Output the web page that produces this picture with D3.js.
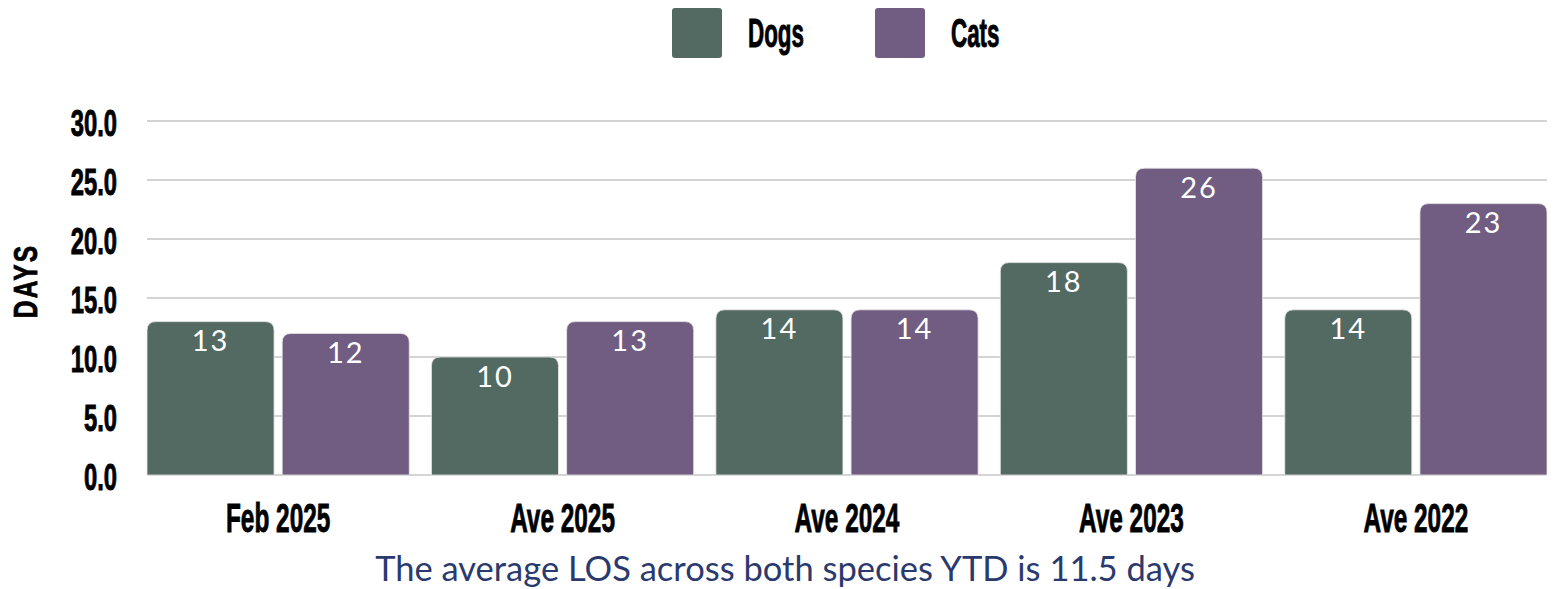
<!DOCTYPE html>
<html><head><meta charset="utf-8">
<script src="https://cdn.jsdelivr.net/npm/d3@7"></script>
<style>body{margin:0;background:#fff}svg{display:block}</style>
</head><body>
<svg id="chart" width="1555" height="589"></svg>
<script>
const categories = ["Feb 2025","Ave 2025","Ave 2024","Ave 2023","Ave 2022"];
const seriesNames = ["Dogs","Cats"];
const dogs = [13,10,14,18,14];
const cats = [12,13,14,26,23];
const yTicks = [0,5,10,15,20,25,30];
const colors = ["#536a62","#715c82"];
const yTitle = "DAYS";
const footer = "The average LOS across both species YTD is 11.5 days";

const svg = d3.select("#chart");
const condensed = "'Liberation Sans', Arial, sans-serif";
const x0 = d3.scaleBand().domain(categories).range([147,1547]).paddingInner(0.078).paddingOuter(0);
const x1 = d3.scaleBand().domain(seriesNames).range([0,x0.bandwidth()]).paddingInner(0.06);
const y = d3.scaleLinear().domain([0,30]).range([475,121]);

// gridlines
svg.append("g").selectAll("line").data(yTicks).join("line")
  .attr("x1",147).attr("x2",1547).attr("y1",d=>y(d)).attr("y2",d=>y(d))
  .attr("stroke","#c6c6c6").attr("stroke-width",1.5);

function condText(parent, x, yy, txt, size, sx, anchor){
  const g = parent.append("g").attr("transform",`translate(${x},${yy}) scale(${sx},1)`);
  return g.append("text").text(txt).attr("font-family",condensed).attr("font-weight","bold")
    .attr("font-size",size).attr("fill","#000").attr("stroke","#000").attr("stroke-width",0.9)
    .attr("text-anchor",anchor).attr("dominant-baseline","central");
}
const yAx = svg.append("g");
yTicks.forEach(t=>condText(yAx,117,y(t)+2,d3.format(".1f")(t),36,0.66,"end"));

// y title
const yt = svg.append("g").attr("transform","translate(25,281) rotate(-90) scale(0.72,1)");
yt.append("text").text(yTitle).attr("font-family",condensed).attr("font-weight","bold")
  .attr("stroke","#000").attr("stroke-width",0.8)
  .attr("font-size",34).attr("letter-spacing",3).attr("text-anchor","middle").attr("dominant-baseline","central");

// bars
const rows = categories.map((c,i)=>({cat:c, vals:[{s:"Dogs",v:dogs[i],c:colors[0]},{s:"Cats",v:cats[i],c:colors[1]}]}));
function topRounded(x,y0,w,h,r){
  return `M${x},${y0+h}V${y0+r}Q${x},${y0} ${x+r},${y0}H${x+w-r}Q${x+w},${y0} ${x+w},${y0+r}V${y0+h}Z`;
}
const grp = svg.append("g").selectAll("g").data(rows).join("g")
  .attr("transform",d=>`translate(${x0(d.cat)},0)`);
grp.selectAll("path").data(d=>d.vals).join("path")
  .attr("d",d=>topRounded(x1(d.s), y(d.v), x1.bandwidth(), y(0)-y(d.v), 9))
  .attr("fill",d=>d.c).attr("stroke","#e8e8e8").attr("stroke-width",0.8);
grp.selectAll("text").data(d=>d.vals).join("text")
  .attr("x",d=>x1(d.s)+x1.bandwidth()/2).attr("y",d=>y(d.v)+18)
  .attr("text-anchor","middle").attr("dominant-baseline","central")
  .attr("font-family","Lato, sans-serif").attr("font-weight",400).attr("font-size",29).attr("letter-spacing",2)
  .attr("fill","#fff").text(d=>d.v);

// x labels
const xAx = svg.append("g");
categories.forEach(c=>condText(xAx, x0(c)+x0.bandwidth()/2, 517, c, 41, 0.595, "middle"));

// legend
const leg = svg.append("g");
const legX = [672,875];
seriesNames.forEach((s,i)=>{
  leg.append("rect").attr("x",legX[i]).attr("y",8).attr("width",50).attr("height",50).attr("rx",3)
    .attr("fill",colors[i]);
  condText(leg, legX[i]+76, 33, s, 40, 0.56, "start");
});

// footer
svg.append("text").attr("x",785).attr("y",567).attr("text-anchor","middle").attr("dominant-baseline","central")
  .attr("font-family","Lato, sans-serif").attr("font-size",34.5).attr("fill","#2b3a6e").text(footer);
</script>
</body></html>
